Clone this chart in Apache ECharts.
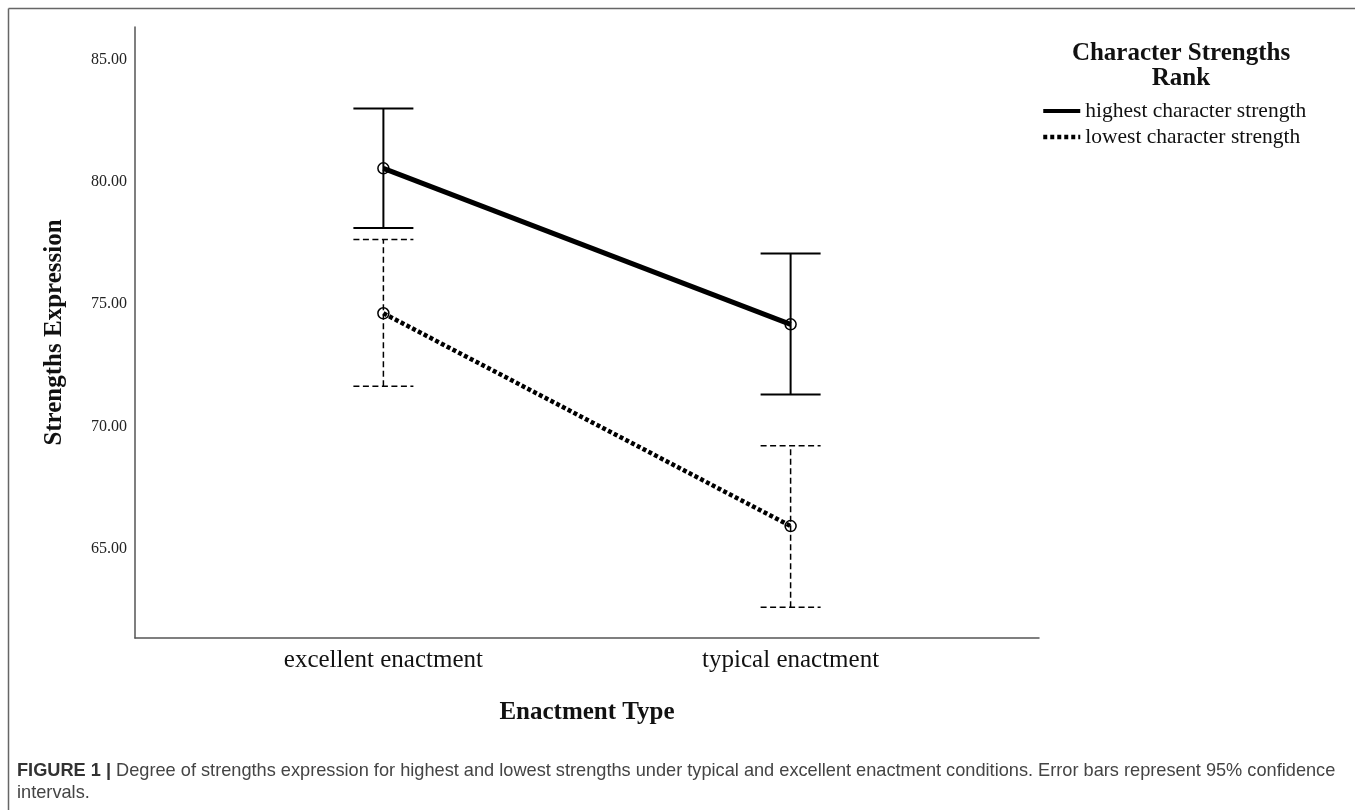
<!DOCTYPE html>
<html><head><meta charset="utf-8">
<script src="https://cdn.jsdelivr.net/npm/echarts@6/dist/echarts.min.js"></script>
<style>html,body{margin:0;padding:0;background:#fff}#c{width:1355px;height:810px}</style>
</head><body><div id="c"></div>
<script>
const categories = ['excellent enactment', 'typical enactment'];
const seriesNames = ['highest character strength', 'lowest character strength'];
const highestMean = [80.55, 74.18];
const highestLow = [78.11, 71.31];
const highestHigh = [82.99, 77.07];
const lowestMean = [74.63, 65.94];
const lowestLow = [71.65, 62.63];
const lowestHigh = [77.64, 69.22];
const yTicks = [65, 70, 75, 80, 85];
const catPos = [0, 1];
const captionLines = [
  'Degree of strengths expression for highest and lowest strengths under typical and excellent enactment conditions. Error bars represent 95% confidence',
  'intervals.'
];

const SERIF = "'Liberation Serif', 'Times New Roman', serif";
const SANS = "'Liberation Sans', Arial, Helvetica, sans-serif";

function pts(means) { return means.map((m, i) => [catPos[i], m]); }
function bars(lo, hi) { return lo.map((l, i) => [catPos[i], l, hi[i]]); }

function errRender(style) {
  return function (params, api) {
    const x = api.value(0);
    const lo = api.coord([x, api.value(1)]);
    const hi = api.coord([x, api.value(2)]);
    const cap = 30;
    return {
      type: 'group',
      children: [
        { type: 'line', shape: { x1: lo[0], y1: lo[1], x2: hi[0], y2: hi[1] }, style: style },
        { type: 'line', shape: { x1: hi[0] - cap, y1: hi[1], x2: hi[0] + cap, y2: hi[1] }, style: style },
        { type: 'line', shape: { x1: lo[0] - cap, y1: lo[1], x2: lo[0] + cap, y2: lo[1] }, style: style }
      ]
    };
  };
}

const chart = echarts.init(document.getElementById('c'), null, { renderer: 'canvas' });
chart.setOption({
  animation: false,
  backgroundColor: '#fff',
  grid: { left: 135, right: 316, top: 27, bottom: 172 },
  title: {
    text: 'Character Strengths\nRank',
    left: 1176, top: 36, textAlign: 'center',
    textStyle: { fontFamily: SERIF, fontWeight: 'bold', fontSize: 25, lineHeight: 25, color: '#111', align: 'center' }
  },
  legend: {
    orient: 'vertical', left: 1041, top: 100, padding: 0,
    itemWidth: 37, itemHeight: 14, itemGap: 4,
    itemStyle: { opacity: 0 },
    textStyle: { fontFamily: SERIF, fontSize: 21.5, color: '#111' },
    data: [
      { name: seriesNames[0], lineStyle: { width: 4, type: 'solid', color: '#000' } },
      { name: seriesNames[1], lineStyle: { width: 4.5, type: [4, 3], color: '#000' } }
    ]
  },
  xAxis: {
    type: 'value', min: -0.61, max: 1.61,
    name: 'Enactment Type', nameLocation: 'middle', nameGap: 62,
    nameTextStyle: { fontFamily: SERIF, fontWeight: 'bold', fontSize: 25, color: '#111' },
    axisLine: { show: true, onZero: false, lineStyle: { color: '#555', width: 1.5 } },
    axisTick: { show: false },
    splitLine: { show: false },
    axisLabel: {
      customValues: catPos, margin: 10,
      formatter: v => categories[Math.round(v)],
      fontFamily: SERIF, fontSize: 25, color: '#111'
    }
  },
  yAxis: {
    type: 'value', min: 61.37, max: 86.32,
    name: 'Strengths Expression', nameLocation: 'middle', nameGap: 68,
    nameTextStyle: { fontFamily: SERIF, fontWeight: 'bold', fontSize: 25, color: '#111' },
    axisLine: { show: true, onZero: false, lineStyle: { color: '#555', width: 1.5 } },
    axisTick: { show: false },
    splitLine: { show: false },
    axisLabel: {
      customValues: yTicks, margin: 8,
      formatter: v => v.toFixed(2),
      fontFamily: SERIF, fontSize: 16, color: '#222'
    }
  },
  series: [
    {
      type: 'custom', name: 'err-high', renderItem: errRender({ stroke: '#000', lineWidth: 2 }),
      data: bars(highestLow, highestHigh), encode: { x: 0, y: [1, 2] }, z: 2, silent: true
    },
    {
      type: 'custom', name: 'err-low', renderItem: errRender({ stroke: '#000', lineWidth: 1.5, lineDash: [6, 3.5] }),
      data: bars(lowestLow, lowestHigh), encode: { x: 0, y: [1, 2] }, z: 2, silent: true
    },
    {
      type: 'line', name: seriesNames[0], data: pts(highestMean), z: 3,
      symbol: 'circle', symbolSize: 11,
      itemStyle: { color: 'rgba(0,0,0,0)', borderColor: '#000', borderWidth: 1.5 },
      lineStyle: { color: '#000', width: 5 }
    },
    {
      type: 'line', name: seriesNames[1], data: pts(lowestMean), z: 3,
      symbol: 'circle', symbolSize: 11,
      itemStyle: { color: 'rgba(0,0,0,0)', borderColor: '#000', borderWidth: 1.5 },
      lineStyle: { color: '#000', width: 4.5, type: [4, 2.5], cap: 'butt' }
    }
  ],
  graphic: [
    { type: 'line', shape: { x1: 8.5, y1: 8.5, x2: 1355, y2: 8.5 }, style: { stroke: '#666', lineWidth: 1.5 } },
    { type: 'line', shape: { x1: 8.5, y1: 8.5, x2: 8.5, y2: 810 }, style: { stroke: '#666', lineWidth: 1.5 } },
    {
      type: 'text', left: 17, top: 760,
      style: {
        text: '{b|FIGURE 1 |} ' + captionLines.join('\n'),
        fontFamily: SANS, fontSize: 18.2, lineHeight: 22, fill: '#444',
        rich: { b: { fontFamily: SANS, fontSize: 18.2, fontWeight: 'bold', fill: '#333', lineHeight: 22 } }
      }
    }
  ]
});
</script></body></html>
